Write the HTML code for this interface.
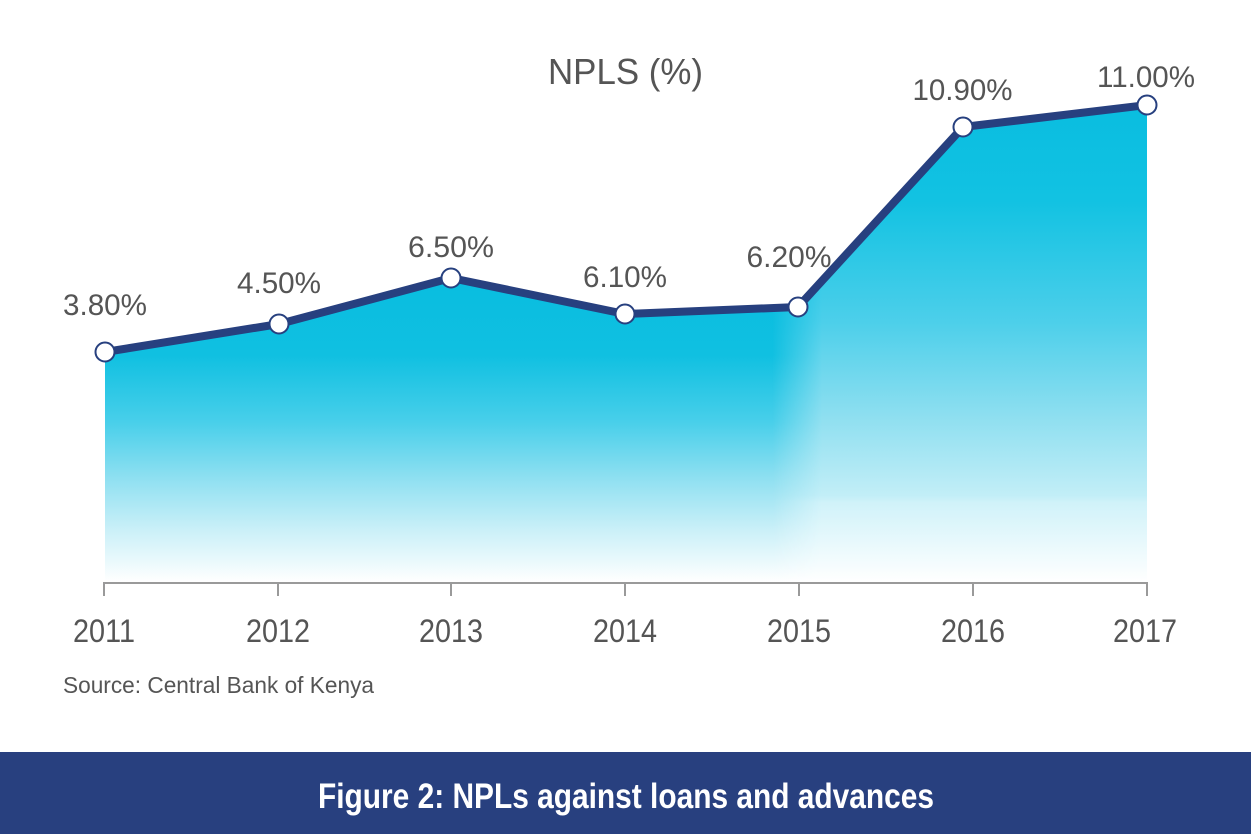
<!DOCTYPE html>
<html>
<head>
<meta charset="utf-8">
<style>
  html, body { margin: 0; padding: 0; background: #ffffff; }
  body { width: 1251px; height: 834px; overflow: hidden; }
  svg { display: block; }
  text { font-family: "Liberation Sans", sans-serif; }
</style>
</head>
<body>
<svg width="1251" height="834" viewBox="0 0 1251 834" xmlns="http://www.w3.org/2000/svg">
  <defs>
    <linearGradient id="gLeft" gradientUnits="userSpaceOnUse" x1="0" y1="280" x2="0" y2="582">
      <stop offset="0" stop-color="#09bde0"/>
      <stop offset="0.25" stop-color="#10c0e1"/>
      <stop offset="0.47" stop-color="#48cfea"/>
      <stop offset="0.66" stop-color="#90e0f1"/>
      <stop offset="0.83" stop-color="#cbf0f8"/>
      <stop offset="1" stop-color="#ffffff"/>
    </linearGradient>
    <linearGradient id="gRight" gradientUnits="userSpaceOnUse" x1="0" y1="100" x2="0" y2="582">
      <stop offset="0" stop-color="#09bde0"/>
      <stop offset="0.21" stop-color="#12c2e2"/>
      <stop offset="0.46" stop-color="#4ccfea"/>
      <stop offset="0.66" stop-color="#8fdff0"/>
      <stop offset="0.82" stop-color="#c2eef7"/>
      <stop offset="0.835" stop-color="#d0f2f9"/>
      <stop offset="1" stop-color="#ffffff"/>
    </linearGradient>
    <linearGradient id="hfade" gradientUnits="userSpaceOnUse" x1="772" y1="0" x2="822" y2="0">
      <stop offset="0" stop-color="#000"/>
      <stop offset="1" stop-color="#fff"/>
    </linearGradient>
    <mask id="mRight">
      <rect x="0" y="0" width="1251" height="834" fill="url(#hfade)"/>
    </mask>
  </defs>

  <!-- Title -->
  <text x="625.5" y="84" font-size="36" fill="#555555" text-anchor="middle" textLength="155" lengthAdjust="spacingAndGlyphs">NPLS (%)</text>

  <!-- Area fill -->
  <polygon points="105,352 279,324 451,278 625,314 798,307 963,127 1147,105 1147,581 105,581" fill="url(#gLeft)"/>
  <polygon points="105,352 279,324 451,278 625,314 798,307 963,127 1147,105 1147,581 105,581" fill="url(#gRight)" mask="url(#mRight)"/>

  <!-- Axis -->
  <line x1="104" y1="583" x2="1148" y2="583" stroke="#9a9a9a" stroke-width="2"/>
  <g stroke="#9a9a9a" stroke-width="2">
    <line x1="104" y1="582" x2="104" y2="596"/>
    <line x1="278" y1="582" x2="278" y2="596"/>
    <line x1="451" y1="582" x2="451" y2="596"/>
    <line x1="625" y1="582" x2="625" y2="596"/>
    <line x1="799" y1="582" x2="799" y2="596"/>
    <line x1="973" y1="582" x2="973" y2="596"/>
    <line x1="1147" y1="582" x2="1147" y2="596"/>
  </g>

  <!-- Line -->
  <polyline points="105,352 279,324 451,278 625,314 798,307 963,127 1147,105" fill="none" stroke="#27407f" stroke-width="8" stroke-linejoin="round" stroke-linecap="round"/>

  <!-- Markers -->
  <g fill="#ffffff" stroke="#27407f" stroke-width="2">
    <circle cx="105" cy="352" r="9.5"/>
    <circle cx="279" cy="324" r="9.5"/>
    <circle cx="451" cy="278" r="9.5"/>
    <circle cx="625" cy="314" r="9.5"/>
    <circle cx="798" cy="307" r="9.5"/>
    <circle cx="963" cy="127" r="9.5"/>
    <circle cx="1147" cy="105" r="9.5"/>
  </g>

  <!-- Value labels -->
  <g font-size="30" fill="#555555" text-anchor="middle">
    <text x="105" y="315" textLength="84" lengthAdjust="spacingAndGlyphs">3.80%</text>
    <text x="279" y="293" textLength="84" lengthAdjust="spacingAndGlyphs">4.50%</text>
    <text x="451" y="257" textLength="86" lengthAdjust="spacingAndGlyphs">6.50%</text>
    <text x="625" y="287" textLength="84" lengthAdjust="spacingAndGlyphs">6.10%</text>
    <text x="789" y="267" textLength="85" lengthAdjust="spacingAndGlyphs">6.20%</text>
    <text x="962.5" y="100" textLength="100" lengthAdjust="spacingAndGlyphs">10.90%</text>
    <text x="1146" y="87" textLength="98" lengthAdjust="spacingAndGlyphs">11.00%</text>
  </g>

  <!-- Year labels -->
  <g font-size="32" fill="#555555" text-anchor="middle">
    <text x="104" y="642" textLength="62" lengthAdjust="spacingAndGlyphs">2011</text>
    <text x="278" y="642" textLength="64" lengthAdjust="spacingAndGlyphs">2012</text>
    <text x="451" y="642" textLength="64" lengthAdjust="spacingAndGlyphs">2013</text>
    <text x="625" y="642" textLength="64" lengthAdjust="spacingAndGlyphs">2014</text>
    <text x="799" y="642" textLength="64" lengthAdjust="spacingAndGlyphs">2015</text>
    <text x="973" y="642" textLength="64" lengthAdjust="spacingAndGlyphs">2016</text>
    <text x="1145" y="642" textLength="64" lengthAdjust="spacingAndGlyphs">2017</text>
  </g>

  <!-- Source -->
  <text x="63" y="693" font-size="23" fill="#555555" textLength="311" lengthAdjust="spacingAndGlyphs">Source: Central Bank of Kenya</text>

  <!-- Footer band -->
  <rect x="0" y="752" width="1251" height="82" fill="#28407f"/>
  <text x="626" y="808" font-size="35" font-weight="bold" fill="#ffffff" text-anchor="middle" textLength="616" lengthAdjust="spacingAndGlyphs">Figure 2: NPLs against loans and advances</text>
</svg>
</body>
</html>
